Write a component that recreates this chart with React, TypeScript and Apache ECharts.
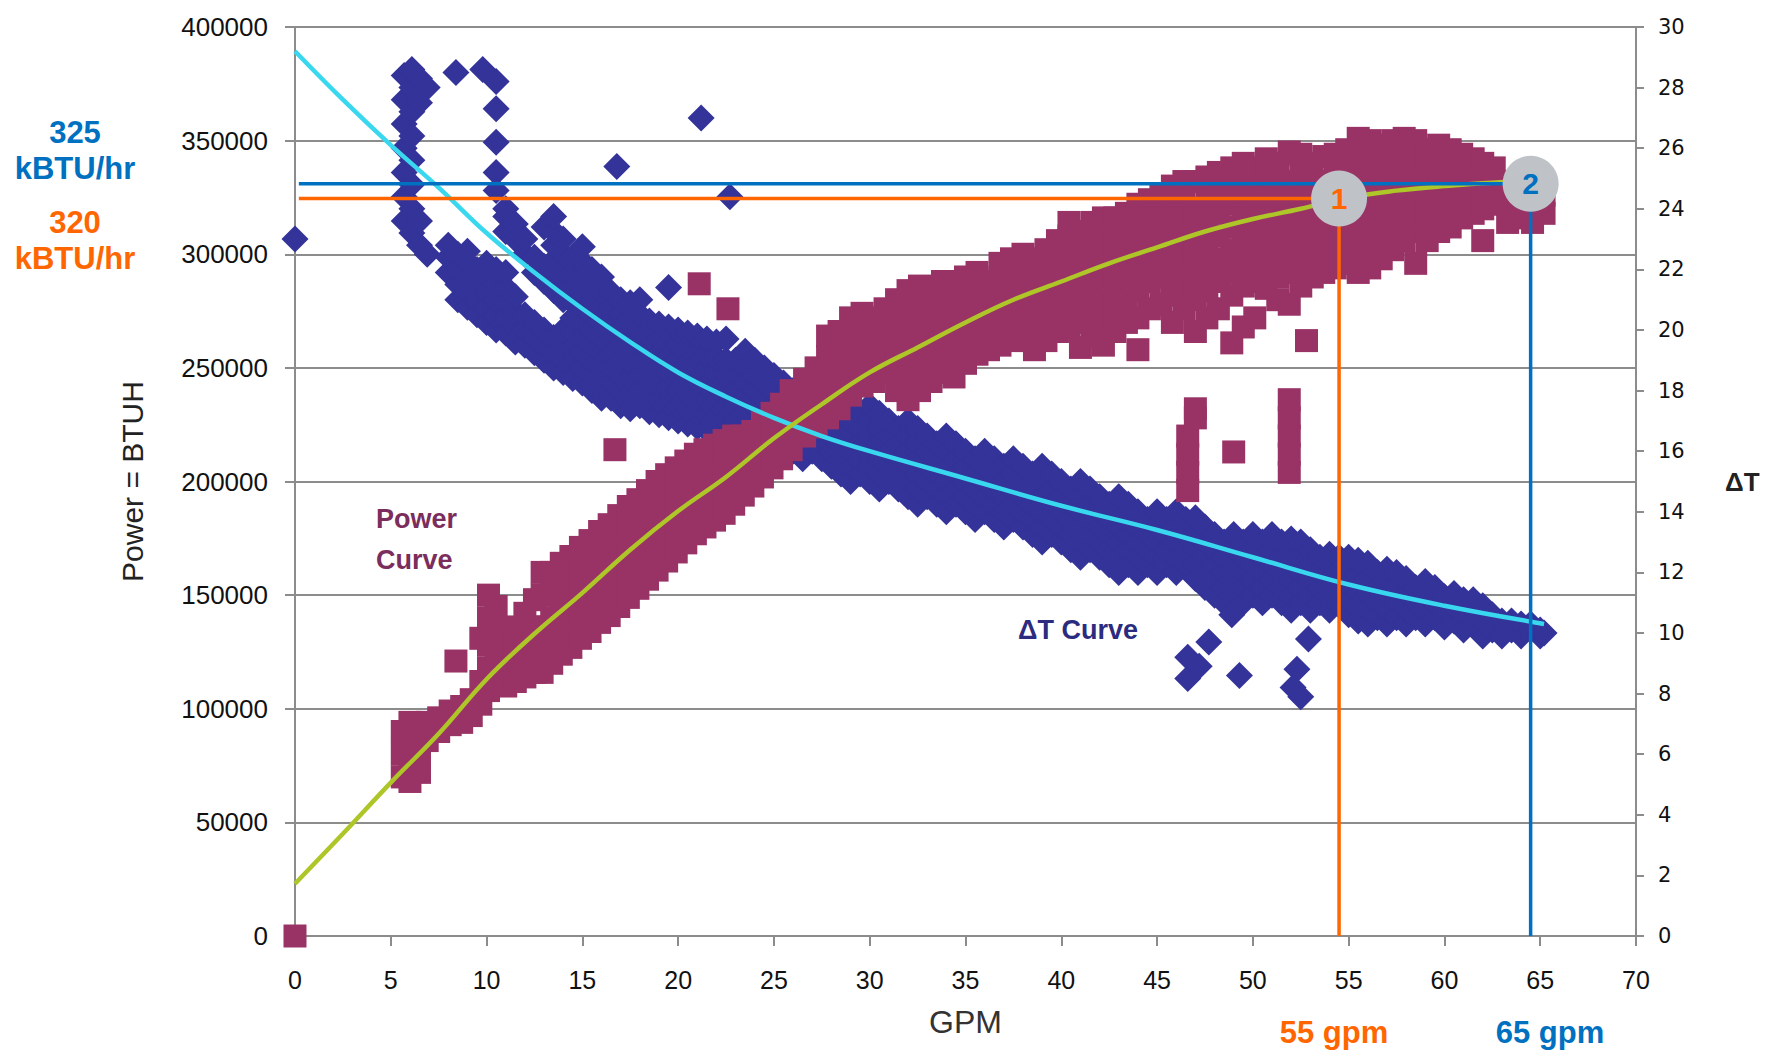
import React, { useEffect, useRef } from 'react';
import * as echarts from 'echarts';

// ---------- data ----------
const GPM_MIN = 0;
const GPM_MAX = 70;
const GPM_STEP = 5;
const POWER_MAX = 400000;
const POWER_STEP = 50000;
const DT_MAX = 30;
const DT_STEP = 2;

// ΔT scatter, read column by column: [GPM, [ΔT values at that GPM]]
const DT_COLUMNS: [number, number[]][] = [
  [0, [23.0]],
  [5.7, [23.6, 24.4, 25.2, 26.0, 26.8, 27.6, 28.4]],
  [6.1, [23.2, 24.0, 24.8, 25.6, 26.4, 27.2, 28.0, 28.6]],
  [6.5, [22.8, 23.6, 27.5, 28.3]],
  [6.9, [22.5, 28.0]],
  [8.4, [28.5]],
  [9.8, [28.6]],
  [10.5, [28.2, 27.3, 26.2, 25.2, 24.6]],
  [16.8, [25.4]],
  [21.2, [27.0]],
  [22.7, [24.4]],
  // left part, two branches
  [8.0, [21.9, 22.4, 22.8]],
  [8.5, [21.0, 21.5, 22.0, 22.5]],
  [9.0, [20.75, 21.25, 21.75, 22.25, 22.6]],
  [9.5, [20.5, 21.0, 21.5, 22.0]],
  [10.0, [20.25, 20.75, 21.25, 21.75, 22.2]],
  [10.5, [20.0, 20.5, 21.0, 21.5, 22.0]],
  [11.0, [19.9, 20.4, 20.9, 21.4, 21.9, 23.25, 23.75, 24.0]],
  [11.5, [19.6, 20.1, 20.6, 21.1, 23.0, 23.5]],
  [12.0, [19.5, 20.0, 20.5, 22.5, 23.0]],
  [12.5, [19.25, 19.75, 20.25, 21.9, 22.4]],
  [13.0, [19.0, 19.5, 20.0, 21.6, 22.1, 23.4]],
  [13.5, [18.75, 19.25, 19.75, 21.3, 21.8, 22.3, 22.8, 23.25, 23.75]],
  [14.0, [18.6, 19.0, 19.5, 20.0, 21.0, 21.5, 22.0, 22.5, 23.0]],
  [14.5, [18.4, 18.9, 19.4, 19.9, 20.4, 20.9, 21.4, 21.9, 22.4]],
  [15.0, [18.25, 18.75, 19.25, 19.75, 20.25, 20.75, 21.25, 21.75, 22.25, 22.75]],
  [15.5, [18.0, 18.5, 19.0, 19.5, 20.0, 20.5, 21.0, 21.5, 22.0]],
  [16.0, [17.75, 18.25, 18.75, 19.25, 19.75, 20.25, 20.75, 21.25, 21.75]],
  [16.5, [17.75, 18.25, 18.75, 19.25, 19.75, 20.25, 20.75, 21.25]],
  [17.0, [17.5, 18.0, 18.5, 19.0, 19.5, 20.0, 20.5, 21.0]],
  [17.5, [17.4, 17.9, 18.4, 18.9, 19.4, 19.9, 20.4, 20.9]],
  [18.0, [17.5, 18.0, 18.5, 19.0, 19.5, 20.0, 20.5, 21.0]],
  [18.5, [17.3, 17.8, 18.3, 18.8, 19.3, 19.8, 20.3]],
  [19.0, [17.2, 17.7, 18.2, 18.7, 19.2, 19.7, 20.2]],
  [19.5, [17.1, 17.6, 18.1, 18.6, 19.1, 19.6, 20.1, 21.4]],
  [20.0, [17.0, 17.5, 18.0, 18.5, 19.0, 19.5, 20.0]],
  [20.5, [16.9, 17.4, 17.9, 18.4, 18.9, 19.4, 19.9]],
  [21.0, [16.8, 17.3, 17.8, 18.3, 18.8, 19.3, 19.8]],
  [21.5, [16.7, 17.2, 17.7, 18.2, 18.7, 19.2, 19.7]],
  [22.0, [16.6, 17.1, 17.6, 18.1, 18.6, 19.1, 19.6]],
  [22.5, [16.5, 17.0, 17.5, 18.0, 18.5, 19.0, 19.7]],
  [23.0, [16.5, 17.0, 17.5, 18.0, 18.5, 19.0]],
  [23.5, [16.3, 16.8, 17.3, 17.8, 18.3, 18.8, 19.3]],
  // main band
  [24.0, [16.5, 17.0, 17.5, 18.0, 18.5, 19.0]],
  [24.5, [16.25, 16.75, 17.25, 17.75, 18.25, 18.75]],
  [25.0, [16.0, 16.5, 17.0, 17.5, 18.0, 18.5]],
  [25.5, [16.25, 16.75, 17.25, 17.75, 18.25]],
  [26.0, [16.0, 16.5, 17.0, 17.5, 18.0]],
  [26.5, [15.75, 16.25, 16.75, 17.25, 17.75]],
  [27.0, [16.0, 16.5, 17.0, 17.5, 18.0]],
  [27.5, [15.75, 16.25, 16.75, 17.25, 17.75]],
  [28.0, [15.5, 16.0, 16.5, 17.0, 17.5, 18.0]],
  [28.5, [15.25, 15.75, 16.25, 16.75, 17.25, 17.75, 18.25]],
  [29.0, [15.0, 15.5, 16.0, 16.5, 17.0, 17.5]],
  [29.5, [15.25, 15.75, 16.25, 16.75, 17.25]],
  [30.0, [15.0, 15.5, 16.0, 16.5, 17.0, 17.5]],
  [30.5, [14.75, 15.25, 15.75, 16.25, 16.75, 17.25]],
  [31.0, [15.0, 15.5, 16.0, 16.5, 17.0]],
  [31.5, [14.75, 15.25, 15.75, 16.25, 16.75]],
  [32.0, [14.5, 15.0, 15.5, 16.0, 16.5, 17.0]],
  [32.5, [14.25, 14.75, 15.25, 15.75, 16.25, 16.75]],
  [33.0, [14.5, 15.0, 15.5, 16.0, 16.5]],
  [33.5, [14.25, 14.75, 15.25, 15.75, 16.25]],
  [34.0, [14.0, 14.5, 15.0, 15.5, 16.0, 16.5]],
  [34.5, [14.25, 14.75, 15.25, 15.75, 16.25]],
  [35.0, [14.0, 14.5, 15.0, 15.5, 16.0]],
  [35.5, [13.75, 14.25, 14.75, 15.25, 15.75]],
  [36.0, [14.0, 14.5, 15.0, 15.5, 16.0]],
  [36.5, [13.75, 14.25, 14.75, 15.25, 15.75]],
  [37.0, [13.5, 14.0, 14.5, 15.0, 15.5]],
  [37.5, [13.75, 14.25, 14.75, 15.25, 15.75]],
  [38.0, [13.5, 14.0, 14.5, 15.0, 15.5]],
  [38.5, [13.25, 13.75, 14.25, 14.75, 15.25]],
  [39.0, [13.0, 13.5, 14.0, 14.5, 15.0, 15.5]],
  [39.5, [13.25, 13.75, 14.25, 14.75, 15.25]],
  [40.0, [13.0, 13.5, 14.0, 14.5, 15.0]],
  [40.5, [12.75, 13.25, 13.75, 14.25, 14.75]],
  [41.0, [12.5, 13.0, 13.5, 14.0, 14.5, 15.0]],
  [41.5, [12.75, 13.25, 13.75, 14.25, 14.75]],
  [42.0, [12.5, 13.0, 13.5, 14.0, 14.5]],
  [42.5, [12.25, 12.75, 13.25, 13.75, 14.25]],
  [43.0, [12.0, 12.5, 13.0, 13.5, 14.0, 14.5]],
  [43.5, [12.25, 12.75, 13.25, 13.75, 14.25]],
  [44.0, [12.0, 12.5, 13.0, 13.5, 14.0]],
  [44.5, [12.25, 12.75, 13.25, 13.75]],
  [45.0, [12.0, 12.5, 13.0, 13.5, 14.0]],
  [45.5, [12.25, 12.75, 13.25, 13.75]],
  [46.0, [12.0, 12.5, 13.0, 13.5, 14.0]],
  [46.5, [12.25, 12.75, 13.25, 13.75]],
  [47.0, [11.8, 12.3, 12.8, 13.3, 13.8]],
  [47.5, [11.5, 12.0, 12.5, 13.0, 13.5]],
  [48.0, [11.25, 11.75, 12.25, 12.75, 13.25]],
  [48.5, [11.0, 11.5, 12.0, 12.5, 13.0]],
  [49.0, [10.75, 11.25, 11.75, 12.25, 12.75, 13.25]],
  [49.5, [11.0, 11.5, 12.0, 12.5, 13.0]],
  [50.0, [11.25, 11.75, 12.25, 12.75, 13.25]],
  [50.5, [11.0, 11.5, 12.0, 12.5, 13.0]],
  [51.0, [11.25, 11.75, 12.25, 12.75, 13.25]],
  [51.5, [11.0, 11.5, 12.0, 12.5, 13.0]],
  [52.0, [10.75, 11.25, 11.75, 12.25, 12.75, 13.1]],
  [52.5, [11.0, 11.5, 12.0, 12.5, 13.0]],
  [53.0, [10.75, 11.25, 11.75, 12.25, 12.75]],
  [53.5, [11.0, 11.5, 12.0, 12.5]],
  [54.0, [10.75, 11.25, 11.75, 12.25, 12.6]],
  [54.5, [11.0, 11.5, 12.0, 12.5]],
  [55.0, [10.6, 11.1, 11.6, 12.1, 12.5]],
  [55.5, [10.4, 10.9, 11.4, 11.9, 12.4]],
  [56.0, [10.3, 10.8, 11.3, 11.8, 12.3]],
  [56.5, [10.5, 11.0, 11.5, 12.0]],
  [57.0, [10.3, 10.8, 11.3, 11.8, 12.1]],
  [57.5, [10.5, 11.0, 11.5, 12.0]],
  [58.0, [10.3, 10.8, 11.3, 11.8]],
  [58.5, [10.5, 11.0, 11.5]],
  [59.0, [10.3, 10.8, 11.3, 11.7]],
  [59.5, [10.5, 11.0, 11.5]],
  [60.0, [10.2, 10.7, 11.2]],
  [60.5, [10.4, 10.9, 11.3]],
  [61.0, [10.1, 10.6, 11.1]],
  [61.5, [10.3, 10.8, 11.1]],
  [62.0, [9.9, 10.4, 10.9]],
  [62.5, [10.1, 10.6]],
  [63.0, [9.9, 10.4]],
  [63.5, [10.1, 10.4]],
  [64.0, [9.9, 10.3]],
  [64.5, [10.1, 10.3]],
  [65.0, [9.9, 10.1]],
  [65.2, [10.0]],
  // low outliers
  [46.6, [9.2, 8.5]],
  [47.2, [8.9]],
  [47.7, [9.7]],
  [49.3, [8.6]],
  [48.9, [10.6]],
  [52.9, [9.8]],
  [52.3, [8.8]],
  [52.5, [7.9]],
  [52.1, [8.2]],
];

// Power scatter, read column by column: [GPM, [kBTUH values at that GPM]]
const POWER_COLUMNS: [number, number[]][] = [
  [0, [0]],
  [5.6, [70, 80, 90]],
  [6.0, [68, 76, 86, 94]],
  [6.5, [72, 82, 90]],
  [6.9, [86, 94]],
  [7.5, [90, 96]],
  [8.1, [93, 99]],
  [8.4, [121]],
  [8.7, [94, 101]],
  [9.2, [97, 104]],
  [9.7, [102, 112, 131]],
  [10.1, [108, 118, 128, 140, 150]],
  [10.5, [112, 122, 132, 145]],
  [11.0, [110, 118, 126, 136]],
  [11.5, [112, 121, 130]],
  [12.0, [114, 124, 133, 142]],
  [12.5, [116, 126, 136, 148]],
  [12.9, [116, 126, 136, 150, 160]],
  [13.4, [120, 130, 140, 150, 160]],
  [13.9, [124, 134, 144, 154, 164]],
  [14.4, [127, 137, 147, 157, 167]],
  [14.9, [131, 141, 151, 161, 171]],
  [15.4, [134, 144, 154, 164, 174]],
  [15.9, [138, 148, 158, 168, 178]],
  [16.4, [141, 151, 161, 171, 181]],
  [16.7, [214]],
  [16.9, [145, 155, 165, 175, 185]],
  [17.4, [149, 159, 169, 179, 189]],
  [17.9, [153, 163, 173, 183, 192]],
  [18.4, [157, 167, 177, 187, 196]],
  [18.9, [161, 170, 180, 190, 200]],
  [19.4, [165, 174, 184, 194, 203]],
  [19.9, [169, 178, 188, 198, 206]],
  [20.4, [173, 182, 192, 201, 209]],
  [20.9, [177, 186, 195, 204, 212]],
  [21.1, [287]],
  [21.4, [180, 189, 198, 207, 214]],
  [21.9, [183, 192, 201, 210, 216]],
  [22.4, [186, 195, 204, 212, 218]],
  [22.6, [276]],
  [22.9, [190, 199, 208, 216, 220]],
  [23.4, [194, 203, 212, 220]],
  [23.9, [198, 207, 216, 222]],
  [24.4, [202, 211, 220, 226]],
  [24.9, [206, 215, 224, 230]],
  [25.4, [210, 219, 228, 234]],
  [25.9, [214, 223, 232, 240]],
  [26.6, [220, 229, 238, 245]],
  [27.2, [224, 233, 242, 250]],
  [27.8, [228, 237, 246, 255, 264]],
  [28.4, [232, 241, 250, 259, 266]],
  [29.0, [238, 247, 256, 264, 272]],
  [29.6, [242, 251, 260, 268, 274]],
  [30.2, [244, 254, 264, 272]],
  [30.8, [248, 258, 268, 276]],
  [31.4, [240, 250, 260, 270, 280]],
  [32.0, [236, 246, 256, 266, 276, 284]],
  [32.6, [240, 250, 260, 270, 280, 286]],
  [33.2, [244, 254, 264, 274, 284]],
  [33.8, [248, 258, 268, 278, 288]],
  [34.4, [246, 256, 266, 276, 286]],
  [35.0, [252, 262, 272, 282, 290]],
  [35.6, [256, 266, 276, 286, 292]],
  [36.2, [258, 268, 278, 288]],
  [36.8, [260, 270, 280, 290, 296]],
  [37.4, [262, 272, 282, 292, 298]],
  [38.0, [264, 274, 284, 294, 300]],
  [38.6, [258, 268, 278, 288, 298]],
  [39.2, [262, 272, 282, 292, 302]],
  [39.8, [266, 276, 286, 296, 306]],
  [40.4, [268, 278, 288, 298, 308, 314]],
  [41.0, [259, 270, 280, 290, 300, 310]],
  [41.6, [264, 274, 284, 294, 304, 314]],
  [42.2, [260, 270, 280, 290, 300, 310, 316]],
  [42.8, [266, 276, 286, 296, 306, 316]],
  [43.4, [270, 280, 290, 300, 310, 318]],
  [44.0, [258, 272, 284, 294, 304, 314, 322]],
  [44.6, [276, 288, 298, 308, 318, 324]],
  [45.2, [278, 290, 300, 310, 320, 326]],
  [45.8, [270, 282, 292, 302, 312, 322, 330]],
  [46.4, [276, 286, 296, 306, 316, 326, 332]],
  [46.6, [196, 204, 212, 220]],
  [47.0, [266, 280, 290, 300, 310, 320, 332, 228, 232]],
  [47.6, [272, 284, 294, 304, 314, 324, 334]],
  [48.2, [276, 288, 298, 308, 318, 328, 336]],
  [48.9, [261, 282, 292, 302, 312, 322, 332, 338]],
  [49.0, [213]],
  [49.5, [268, 286, 296, 306, 316, 326, 336, 340]],
  [50.1, [272, 288, 298, 308, 318, 328, 338]],
  [50.7, [285, 295, 305, 315, 325, 335, 342]],
  [51.3, [280, 290, 300, 310, 320, 330, 340]],
  [51.9, [278, 292, 302, 312, 322, 332, 345, 204, 212, 220, 228, 236]],
  [52.5, [286, 296, 306, 316, 326, 336, 344]],
  [52.8, [262]],
  [53.1, [290, 300, 310, 320, 330, 340]],
  [53.7, [292, 302, 312, 322, 332, 343]],
  [54.3, [294, 304, 314, 324, 334, 344]],
  [54.9, [296, 306, 316, 326, 336, 346]],
  [55.5, [292, 302, 312, 322, 332, 342, 351]],
  [56.1, [294, 304, 314, 324, 334, 344, 350]],
  [56.7, [298, 308, 318, 328, 338, 348]],
  [57.3, [302, 312, 322, 332, 342, 350]],
  [57.9, [306, 316, 326, 336, 346, 351]],
  [58.5, [296, 310, 320, 330, 340, 350]],
  [59.1, [306, 316, 326, 336, 346]],
  [59.7, [310, 320, 330, 340, 348]],
  [60.3, [312, 322, 332, 342, 346]],
  [60.9, [316, 326, 336, 344]],
  [61.5, [318, 328, 338, 342]],
  [62.0, [306, 320, 330, 340]],
  [62.6, [322, 332, 338]],
  [63.3, [314, 322, 330]],
  [63.9, [316, 324, 330]],
  [64.6, [314, 322]],
  [65.2, [318, 326]],
];

// trend curves
const DT_TREND: [number, number][] = [
  [0, 29.2], [2.5, 27.6], [5, 26.1], [7.5, 24.7], [10, 23.2], [12.5, 21.9], [15, 20.7], [17.5, 19.6],
  [20, 18.6], [22.5, 17.8], [25, 17.1], [27.5, 16.5], [30, 16.0], [35, 15.1], [40, 14.2], [45, 13.4],
  [50, 12.5], [55, 11.6], [60, 10.9], [65.2, 10.3],
];
const POWER_TREND_K: [number, number][] = [
  [0, 23], [2.5, 45], [5, 67.5], [7.5, 89], [10, 113], [12.5, 133], [15, 151], [17.5, 170], [20, 187],
  [22.5, 202], [25, 219], [27.5, 234], [30, 248], [32.5, 259], [35, 270], [37.5, 280], [40, 288],
  [42.5, 296], [45, 303], [47.5, 310], [50, 315.5], [52.5, 320], [55, 325], [57.5, 328], [60, 330],
  [62.5, 331.5], [64.5, 332],
];

// operating points
const OP_LABELS = ['1', '2'];
const OP_GPM = [54.5, 64.5];
const OP_KBTU = [324.5, 331];
const OP_COLORS = ['#FF6600', '#0070C0'];
const OP_LEFT_TEXT = ['320', '325'];
const OP_BOTTOM_TEXT = ['55 gpm', '65 gpm'];
const LINE_START_GPM = 0.2;

const FONT = '"Liberation Sans", Arial, sans-serif';

const flatten = (cols: [number, number[]][], k = 1) => {
  const out: [number, number][] = [];
  cols.forEach(([g, vals]) => vals.forEach((v) => out.push([g, v * k])));
  return out;
};

export default function App() {
  const ref = useRef<HTMLDivElement>(null);

  useEffect(() => {
    if (!ref.current) return;
    const chart = echarts.init(ref.current, undefined, { renderer: 'svg' });

    const opLineSeries: any[] = [];
    OP_GPM.forEach((g, i) => {
      const p = OP_KBTU[i] * 1000;
      opLineSeries.push({
        type: 'line',
        data: [[LINE_START_GPM, p], [g, p]],
        symbol: 'none',
        lineStyle: { color: OP_COLORS[i], width: 3.5 },
        z: 5,
        silent: true,
      });
      opLineSeries.push({
        type: 'line',
        data: [[g, p], [g, 0]],
        symbol: 'none',
        lineStyle: { color: OP_COLORS[i], width: 3.5 },
        z: 5,
        silent: true,
      });
    });

    const bigText = (text: string, x: number, y: number, color: string) => ({
      type: 'text',
      x,
      y,
      z: 10,
      style: { text, fill: color, font: `bold 31px ${FONT}`, align: 'center', verticalAlign: 'middle' },
    });

    const option: any = {
      animation: false,
      backgroundColor: '#ffffff',
      grid: { left: 295, right: 138, top: 27, bottom: 117, containLabel: false, outerBoundsMode: 'none' },
      xAxis: {
        type: 'value',
        min: GPM_MIN,
        max: GPM_MAX,
        interval: GPM_STEP,
        name: 'GPM',
        nameLocation: 'middle',
        nameGap: 70,
        nameTextStyle: { fontFamily: FONT, fontSize: 32, color: '#333333' },
        axisLine: { show: true, lineStyle: { color: '#8c8c8c', width: 2 } },
        axisTick: { show: true, inside: false, length: 10, lineStyle: { color: '#8c8c8c', width: 2 } },
        axisLabel: { fontFamily: FONT, fontSize: 25, color: '#111111', margin: 31, formatter: (v: number) => String(v) },
        splitLine: { show: false },
      },
      yAxis: [
        {
          type: 'value',
          position: 'left',
          min: 0,
          max: POWER_MAX,
          interval: POWER_STEP,
          name: 'Power = BTUH',
          nameLocation: 'middle',
          nameGap: 148,
          nameRotate: 90,
          nameTextStyle: { fontFamily: FONT, fontSize: 30, color: '#222222' },
          axisLine: { show: true, lineStyle: { color: '#8c8c8c', width: 2 } },
          axisTick: { show: true, inside: false, length: 10, lineStyle: { color: '#8c8c8c', width: 2 } },
          axisLabel: { fontFamily: FONT, fontSize: 26, color: '#111111', margin: 27, formatter: (v: number) => String(v) },
          splitLine: { show: true, lineStyle: { color: '#8c8c8c', width: 2 } },
        },
        {
          type: 'value',
          position: 'right',
          min: 0,
          max: DT_MAX,
          interval: DT_STEP,
          name: 'ΔT',
          nameLocation: 'middle',
          nameGap: 89,
          nameRotate: 0,
          nameTextStyle: { fontFamily: FONT, fontSize: 26, fontWeight: 'bold', color: '#222222' },
          axisLine: { show: true, lineStyle: { color: '#8c8c8c', width: 2 } },
          axisTick: { show: true, inside: false, length: 8, lineStyle: { color: '#8c8c8c', width: 2 } },
          axisLabel: {
            fontFamily: '"DejaVu Sans", Verdana, sans-serif',
            fontSize: 21,
            color: '#111111',
            margin: 22,
            formatter: (v: number) => String(v),
          },
          splitLine: { show: false },
        },
      ],
      series: [
        {
          name: 'ΔT',
          type: 'scatter',
          yAxisIndex: 1,
          data: flatten(DT_COLUMNS),
          symbol: 'diamond',
          symbolSize: 27,
          itemStyle: { color: '#333399', opacity: 1 },
          z: 2,
        },
        {
          name: 'Power',
          type: 'scatter',
          yAxisIndex: 0,
          data: flatten(POWER_COLUMNS, 1000),
          symbol: 'rect',
          symbolSize: 23,
          itemStyle: { color: '#993366', opacity: 1 },
          z: 3,
        },
        {
          name: 'ΔT trend',
          type: 'line',
          yAxisIndex: 1,
          data: DT_TREND,
          smooth: 0.4,
          symbol: 'none',
          lineStyle: { color: '#3ad8ee', width: 4.5 },
          z: 4,
        },
        {
          name: 'Power trend',
          type: 'line',
          yAxisIndex: 0,
          data: POWER_TREND_K.map(([g, k]) => [g, k * 1000]),
          smooth: 0.4,
          symbol: 'none',
          lineStyle: { color: '#aec628', width: 4.5 },
          z: 4,
        },
        ...opLineSeries,
        {
          type: 'scatter',
          yAxisIndex: 0,
          symbol: 'circle',
          symbolSize: 56,
          itemStyle: { color: '#bfc2c7', opacity: 1 },
          z: 6,
          data: OP_GPM.map((g, i) => ({
            value: [g, OP_KBTU[i] * 1000],
            name: OP_LABELS[i],
            label: {
              show: true,
              position: 'inside',
              formatter: OP_LABELS[i],
              color: OP_COLORS[i],
              fontFamily: FONT,
              fontWeight: 'bold',
              fontSize: 30,
            },
          })),
        },
      ],
      graphic: [
        bigText(OP_LEFT_TEXT[1], 75, 132, OP_COLORS[1]),
        bigText('kBTU/hr', 75, 168, OP_COLORS[1]),
        bigText(OP_LEFT_TEXT[0], 75, 222, OP_COLORS[0]),
        bigText('kBTU/hr', 75, 258, OP_COLORS[0]),
        bigText(OP_BOTTOM_TEXT[0], 1334, 1032, OP_COLORS[0]),
        bigText(OP_BOTTOM_TEXT[1], 1550, 1032, OP_COLORS[1]),
        {
          type: 'text', x: 376, y: 519, z: 10,
          style: { text: 'Power', fill: '#7b2d5c', font: `bold 27px ${FONT}`, align: 'left', verticalAlign: 'middle' },
        },
        {
          type: 'text', x: 376, y: 560, z: 10,
          style: { text: 'Curve', fill: '#7b2d5c', font: `bold 27px ${FONT}`, align: 'left', verticalAlign: 'middle' },
        },
        {
          type: 'text', x: 1018, y: 630, z: 10,
          style: { text: 'ΔT Curve', fill: '#2b2b80', font: `bold 27px ${FONT}`, align: 'left', verticalAlign: 'middle' },
        },
      ],
    };

    chart.setOption(option);
    return () => chart.dispose();
  }, []);

  return (
    <div
      ref={ref}
      style={{ position: 'fixed', left: 0, top: 0, width: 1774, height: 1053, background: '#fff' }}
    />
  );
}
